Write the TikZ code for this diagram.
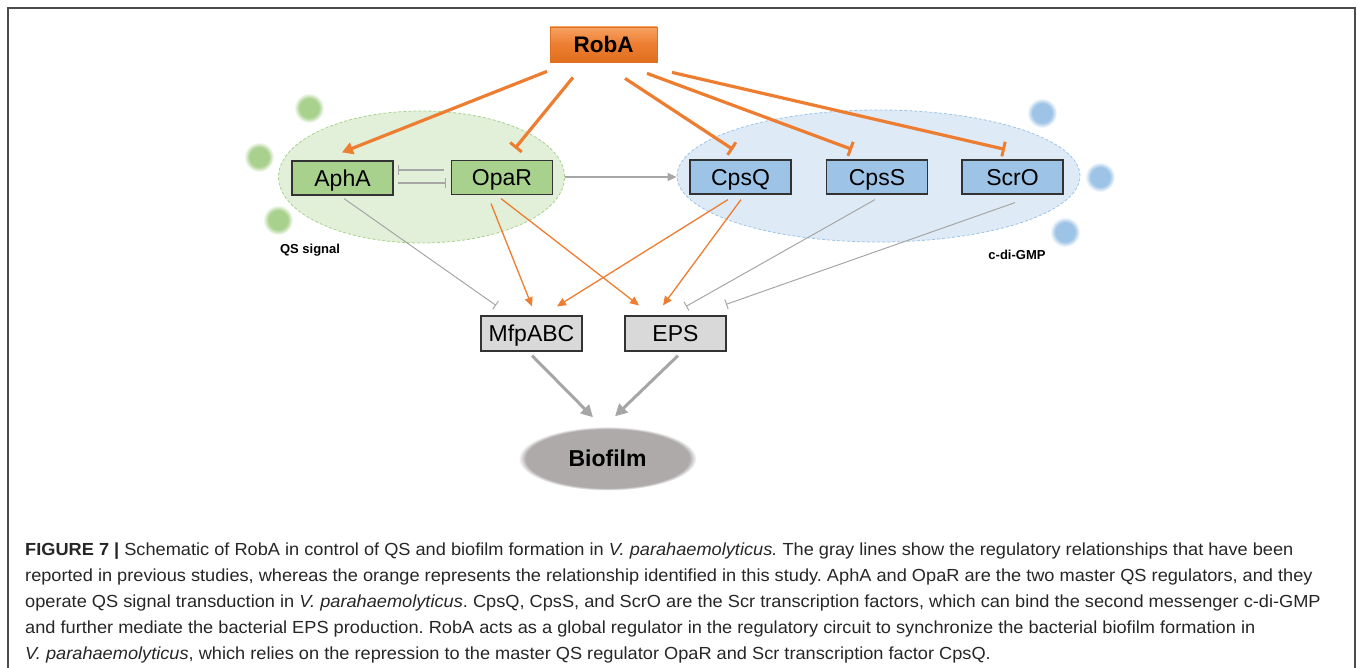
\documentclass[tikz,border=0pt]{standalone}
\usepackage{fontspec}
\setmainfont{Liberation Sans}
\newfontfamily\capfont[FakeStretch=1.04]{Liberation Sans}
\usepackage{tikz}
\usetikzlibrary{arrows.meta,shapes.geometric}
\frenchspacing

\definecolor{orng}{HTML}{ED7D31}
\definecolor{robtop}{HTML}{F7A262}
\definecolor{robbot}{HTML}{E06F1F}
\definecolor{lgray}{HTML}{A6A6A6}
\definecolor{gbox}{HTML}{A9D18E}
\definecolor{gell}{HTML}{E2F0D9}
\definecolor{bbox}{HTML}{9DC3E6}
\definecolor{bell}{HTML}{DEEBF7}
\definecolor{pbox}{HTML}{D9D9D9}
\definecolor{biocol}{HTML}{AEAAAA}
\definecolor{captxt}{HTML}{262626}

\pgfdeclareradialshading{qsdot}{\pgfpoint{0bp}{0bp}}{color(0bp)=(gbox); color(16bp)=(gbox); color(25bp)=(white); color(50bp)=(white)}
\pgfdeclareradialshading{gmpdot}{\pgfpoint{0bp}{0bp}}{color(0bp)=(bbox); color(16bp)=(bbox); color(25bp)=(white); color(50bp)=(white)}
\pgfdeclareradialshading{biofade}{\pgfpoint{0bp}{0bp}}{color(0bp)=(biocol); color(23bp)=(biocol); color(25bp)=(white); color(50bp)=(white)}

\begin{document}
\begin{tikzpicture}[
  x=1pt, y=-1pt,
  font=\fontsize{23}{26}\selectfont,
  box/.style={draw=black!80, line width=1.2pt, minimum width=101pt,
              minimum height=34pt, inner sep=0pt, text height=16.5pt, text depth=0pt},
  qsbox/.style={box, fill=gbox},
  gmpbox/.style={box, fill=bbox},
  outbox/.style={box, fill=pbox, minimum height=35pt},
  cloud/.style={ellipse, inner sep=0pt, line width=0.8pt,
                dash pattern=on 3pt off 2pt},
  sig/.style={circle, minimum size=30pt, inner sep=0pt},
  tag/.style={font=\bfseries\fontsize{13}{15}\selectfont},
  capline/.style={anchor=base west, inner sep=0pt, text=captxt,
              font=\capfont\fontsize{17.5}{26}\selectfont},
  rob/.style={draw=orng, line width=3.2pt},
  rin/.style={rob, -{Bar[width=15pt,line width=3pt]}},
  ract/.style={draw=orng, line width=1.3pt, -{Triangle[length=9pt,width=8pt]}},
  gin/.style={draw=lgray, line width=1pt, -{Bar[width=10pt,line width=1pt]}},
  gout/.style={draw=lgray, line width=3pt, -{Triangle[length=12pt,width=12pt]}}
]
\useasboundingbox (0,0) rectangle (1357,668);
\draw[black!70, line width=2pt] (8,668) -- (8,8) -- (1355,8) -- (1355,668);

% signal clouds
\node[cloud, draw=gbox, fill=gell, minimum width=286pt, minimum height=132pt] (qs) at (421.5,177) {};
\node[cloud, draw=bbox, fill=bell, minimum width=403pt, minimum height=132pt] (cps) at (878.5,176) {};

\node[sig, shading=qsdot] (g1) at (309,108) {};
\node[sig, shading=qsdot] (g2) at (259,157) {};
\node[sig, shading=qsdot] (g3) at (278,220) {};
\node[sig, shading=gmpdot] (b1) at (1042,113) {};
\node[sig, shading=gmpdot] (b2) at (1100,177) {};
\node[sig, shading=gmpdot] (b3) at (1065,232) {};

\node[tag] (qslab) at (310,250) {QS signal};
\node[tag] (gmplab) at (1017,255) {c-di-GMP};

% regulators
\node[draw=robbot, line width=0.8pt, top color=robtop, bottom color=robbot,
      middle color=orng, minimum width=107pt, minimum height=35pt,
      text height=16.5pt, text depth=0pt,
      font=\bfseries\fontsize{22.5}{26}\selectfont] (roba) at (603.5,44.5) {RobA};
\node[qsbox] (apha) at (342.5,178) {AphA};
\node[qsbox] (opar) at (502,177.5) {OpaR};
\node[gmpbox] (cpsq) at (740.5,177) {CpsQ};
\node[gmpbox] (cpss) at (877,177) {CpsS};
\node[gmpbox] (scro) at (1012.5,177) {ScrO};
\node[outbox] (mfp) at (531.5,333.5) {MfpABC};
\node[outbox] (eps) at (675.5,333.5) {EPS};
\node[ellipse, shading=biofade, minimum width=178pt, minimum height=64pt,
      text height=16.5pt, text depth=0pt,
      font=\bfseries\fontsize{23}{26}\selectfont] (bio) at (607.5,458.5) {Biofilm};

% RobA control
\draw[rob, -{Triangle[length=11pt,width=12pt]}] ([shift={(-56.5,9)}]roba.south) -- ([shift={(-0.5,-8)}]apha.north);
\draw[rin] ([shift={(-30.5,15)}]roba.south) -- ([shift={(13,-11.5)}]opar.north);
\draw[rin] ([shift={(21.5,16)}]roba.south) -- ([shift={(-7.5,-10)}]cpsq.north);
\draw[rin] ([shift={(43.5,11)}]roba.south) -- ([shift={(-25,-10)}]cpss.north);
\draw[rin] ([shift={(68.5,10)}]roba.south) -- ([shift={(-7.5,-10)}]scro.north);

% QS pair
\draw[gin, line width=1.3pt] ([shift={(-7,-7.5)}]opar.west) -- ([shift={(4,-8)}]apha.east);
\draw[gin, line width=1.3pt] ([shift={(4,5)}]apha.east) -- ([shift={(-5,5.5)}]opar.west);
\draw[draw=lgray, line width=1.2pt, -{Triangle[length=9pt,width=8pt]}] (qs.east) -- (qs.east -| cps.west);

% targets
\draw[ract] ([shift={(-11,8.5)}]opar.south) -- ([shift={(0.5,-9)}]mfp.north);
\draw[ract] ([shift={(-1,3.5)}]opar.south) -- ([shift={(-36.5,-10)}]eps.north);
\draw[ract] ([shift={(-12.5,5)}]cpsq.south) -- ([shift={(25.5,-9)}]mfp.north);
\draw[ract] ([shift={(0.5,5)}]cpsq.south) -- ([shift={(-12.5,-10)}]eps.north);
\draw[gin] ([shift={(1.5,3)}]apha.south) -- ([shift={(-35.5,-10)}]mfp.north);
\draw[gin] ([shift={(-2,5)}]cpss.south) -- ([shift={(10.5,-9)}]eps.north);
\draw[gin] ([shift={(2.5,8)}]scro.south) -- ([shift={(50.5,-11)}]eps.north);

\draw[gout] ([shift={(0.5,4)}]mfp.south) -- ([shift={(-14.5,-9)}]bio.north);
\draw[gout] ([shift={(2.5,4)}]eps.south) -- ([shift={(7.5,-10)}]bio.north);

% caption
\node[capline] (cap1) at (25,555) {\textbf{FIGURE 7 |} Schematic of RobA in control of QS and biofilm formation in \textit{V. parahaemolyticus.} The gray lines show the regulatory relationships that have been};
\node[capline] (cap2) at (25,581) {reported in previous studies, whereas the orange represents the relationship identified in this study. AphA and OpaR are the two master QS regulators, and they};
\node[capline] (cap3) at (25,607) {operate QS signal transduction in \textit{V. parahaemolyticus}. CpsQ, CpsS, and ScrO are the Scr transcription factors, which can bind the second messenger c-di-GMP};
\node[capline] (cap4) at (25,633) {and further mediate the bacterial EPS production. RobA acts as a global regulator in the regulatory circuit to synchronize the bacterial biofilm formation in};
\node[capline] (cap5) at (25,659) {\textit{V. parahaemolyticus}, which relies on the repression to the master QS regulator OpaR and Scr transcription factor CpsQ.};
\end{tikzpicture}
\end{document}
